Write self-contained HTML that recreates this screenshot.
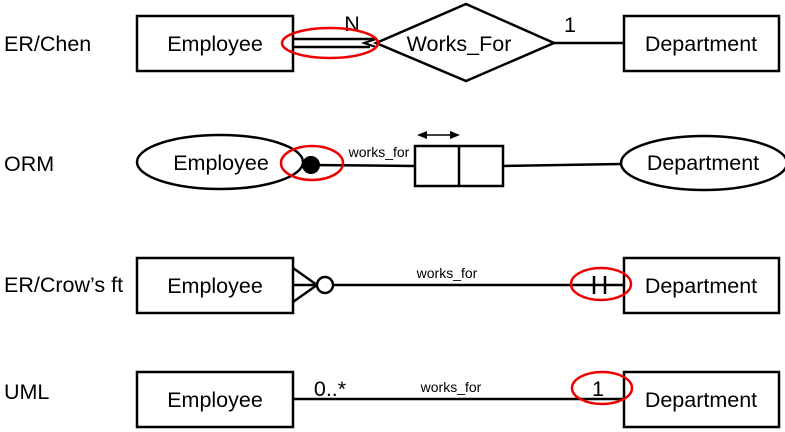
<!DOCTYPE html>
<html><head><style>html,body{margin:0;padding:0;background:#fff}svg{display:block}</style></head>
<body>
<svg width="785" height="432" viewBox="0 0 785 432" xmlns="http://www.w3.org/2000/svg" font-family="Liberation Sans, sans-serif" fill="none" stroke="#000" stroke-width="2.5">
<g fill="#000" stroke="none" font-size="21.5">
<text x="4" y="51">ER/Chen</text>
<text x="4" y="171">ORM</text>
<text x="4" y="292">ER/Crow’s ft</text>
<text x="4" y="399">UML</text>
</g>
<!-- Row 1 -->
<rect x="137" y="16" width="156" height="55"/>
<rect x="624" y="16" width="155" height="55"/>
<polygon points="376,43 466,4 554,43 466,81" fill="#fff"/>
<line x1="293" y1="39" x2="374" y2="39"/>
<line x1="293" y1="47" x2="370" y2="47"/>
<polyline points="376,39 364,43 376,47" stroke-width="2"/>
<line x1="554" y1="43" x2="624" y2="43"/>
<g fill="#000" stroke="none" font-size="21.5" text-anchor="middle">
<text x="215" y="51">Employee</text>
<text x="701" y="51">Department</text>
<text x="459" y="51">Works_For</text>
<text x="352" y="31">N</text>
<text x="570" y="32">1</text>
</g>
<ellipse cx="330" cy="43" rx="48" ry="15" stroke="#e00"/>
<!-- Row 2 -->
<ellipse cx="220" cy="162" rx="83" ry="27"/>
<ellipse cx="704" cy="163" rx="83" ry="27"/>
<circle cx="311" cy="165" r="9" fill="#000" stroke="none"/>
<line x1="311" y1="165" x2="415" y2="166"/>
<rect x="415" y="146" width="88" height="40"/>
<line x1="459" y1="146" x2="459" y2="186"/>
<line x1="503" y1="166" x2="621" y2="164"/>
<line x1="424" y1="135" x2="452" y2="135" stroke-width="1.5"/>
<polygon points="417,135 427,131 427,139" fill="#000" stroke="none"/>
<polygon points="460,135 450,131 450,139" fill="#000" stroke="none"/>
<g fill="#000" stroke="none" text-anchor="middle">
<text x="221" y="170" font-size="21.5">Employee</text>
<text x="703" y="170" font-size="21.5">Department</text>
<text x="379" y="157" font-size="14">works_for</text>
</g>
<ellipse cx="312" cy="163" rx="31" ry="17" stroke="#e00"/>
<!-- Row 3 -->
<rect x="137" y="258" width="156" height="55"/>
<rect x="624" y="258" width="155" height="55"/>
<line x1="293" y1="268" x2="317" y2="285"/>
<line x1="293" y1="302" x2="317" y2="285"/>
<line x1="293" y1="285" x2="317" y2="285"/>
<circle cx="325" cy="285" r="8" fill="#fff"/>
<line x1="333" y1="285" x2="624" y2="285"/>
<line x1="594" y1="276" x2="594" y2="294"/>
<line x1="605" y1="276" x2="605" y2="294"/>
<g fill="#000" stroke="none" text-anchor="middle">
<text x="215" y="293" font-size="21.5">Employee</text>
<text x="701" y="293" font-size="21.5">Department</text>
<text x="447" y="278" font-size="14">works_for</text>
</g>
<ellipse cx="601" cy="284" rx="30" ry="16" stroke="#e00"/>
<!-- Row 4 -->
<rect x="137" y="372" width="156" height="55"/>
<rect x="624" y="372" width="155" height="55"/>
<line x1="293" y1="399" x2="624" y2="399"/>
<g fill="#000" stroke="none" text-anchor="middle">
<text x="215" y="407" font-size="21.5">Employee</text>
<text x="701" y="407" font-size="21.5">Department</text>
<text x="451" y="392" font-size="14">works_for</text>
<text x="330" y="396" font-size="21.5">0..*</text>
<text x="598" y="396" font-size="21.5">1</text>
</g>
<ellipse cx="602" cy="388" rx="30" ry="16" stroke="#e00"/>
</svg>
</body></html>
